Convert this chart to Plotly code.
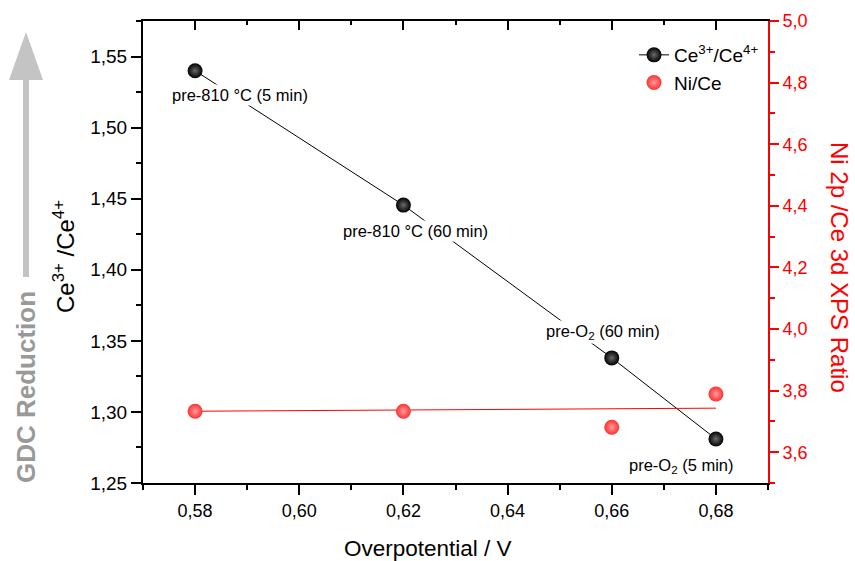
import plotly.graph_objects as go

# Overpotential (V) for each pretreatment
overpotential = [0.58, 0.62, 0.66, 0.68]
# Ce3+/Ce4+ ratio (left axis)
ce_ratio = [1.540, 1.4455, 1.338, 1.281]
# Ni 2p / Ce 3d XPS ratio (right axis)
ni_ce = [3.733, 3.733, 3.681, 3.789]
# Linear trend of Ni/Ce across the measured range
trend_x = [0.58, 0.68]
ni_ce_trend = [3.733, 3.743]
# Pretreatment labels attached to the Ce ratio points
point_labels = ["pre-810 °C (5 min)", "pre-810 °C (60 min)",
                "pre-O<sub>2</sub> (60 min)", "pre-O<sub>2</sub> (5 min)"]
# Label offsets (pixels) relative to each point
label_dx = [45, 12, -9, -34]
label_dy = [-24, -26, 26, -27]

W, H = 855, 561
L, R, T, B = 143, 87, 21, 78
PW, PH = W - L - R, H - T - B
FONT = "Liberation Sans, Arial, sans-serif"


def px(X):
    return (X - L) / PW


def py(Y):
    return (H - B - Y) / PH


fig = go.Figure()

fig.add_trace(go.Scatter(
    x=overpotential, y=ce_ratio, name="Ce<sup>3+</sup>/Ce<sup>4+</sup>",
    mode="lines+markers",
    line=dict(color="black", width=1),
    marker=dict(size=15, color="black",
                gradient=dict(type="radial", color="#6a6a6a")),
    xaxis="x", yaxis="y",
))

fig.add_trace(go.Scatter(
    x=trend_x, y=ni_ce_trend, mode="lines", showlegend=False,
    line=dict(color="#ff0000", width=1), xaxis="x", yaxis="y2",
    hoverinfo="skip",
))

fig.add_trace(go.Scatter(
    x=overpotential, y=ni_ce, name="Ni/Ce", mode="markers",
    marker=dict(size=15, color="#ff3030",
                gradient=dict(type="radial", color="#ff9c9c")),
    xaxis="x", yaxis="y2",
))

# empty trace so the top mirror axis is drawn
fig.add_trace(go.Scatter(x=[None], y=[None], xaxis="x2", yaxis="y",
                         showlegend=False, hoverinfo="skip"))

annotations = []
for xv, yv, txt, dx, dy in zip(overpotential, ce_ratio, point_labels, label_dx, label_dy):
    annotations.append(dict(
        x=xv, y=yv, xref="x", yref="y", text=txt, showarrow=False,
        xshift=dx, yshift=dy, xanchor="center", yanchor="middle",
        bgcolor="white", borderpad=1,
        font=dict(family=FONT, size=16.5, color="black"),
    ))

annotations += [
    dict(x=px(428), y=py(548), xref="paper", yref="paper",
         text="Overpotential / V", showarrow=False,
         font=dict(family=FONT, size=22.5, color="black"),
         xanchor="center", yanchor="middle"),
    dict(x=px(64), y=py(256), xref="paper", yref="paper",
         text="Ce<sup>3+</sup> /Ce<sup>4+</sup>", showarrow=False, textangle=-90,
         font=dict(family=FONT, size=24, color="black"),
         xanchor="center", yanchor="middle"),
    dict(x=px(840), y=py(267), xref="paper", yref="paper",
         text="Ni 2p /Ce 3d XPS Ratio", showarrow=False, textangle=90,
         font=dict(family=FONT, size=24, color="#ff0000"),
         xanchor="center", yanchor="middle"),
    dict(x=px(26), y=py(387), xref="paper", yref="paper",
         text="<b>GDC Reduction</b>", showarrow=False, textangle=-90,
         font=dict(family=FONT, size=26, color="#999999"),
         xanchor="center", yanchor="middle"),
]

# grey "reduction" arrow beside the left axis
arrow_pts = [(23, 277), (23, 80), (9, 80), (26, 32), (43, 80), (29, 80), (29, 277)]
arrow_path = "M " + " L ".join(f"{px(a):.5f},{py(b):.5f}" for a, b in arrow_pts) + " Z"
shapes = [dict(type="path", xref="paper", yref="paper", path=arrow_path,
               fillcolor="#c4c4c4", line=dict(width=0), layer="above")]

x_common = dict(range=[0.57, 0.69], tick0=0.58, dtick=0.02,
                showgrid=False, zeroline=False, showline=True,
                linecolor="black", linewidth=2, tickcolor="black",
                tickwidth=2, ticklen=10,
                minor=dict(dtick=0.01, tick0=0.57, ticklen=5, tickwidth=2,
                           tickcolor="black", ticks="outside"))

fig.update_layout(
    width=W, height=H,
    margin=dict(l=L, r=R, t=T, b=B),
    paper_bgcolor="white", plot_bgcolor="white",
    separators=",.",
    font=dict(family=FONT, color="black"),
    xaxis=dict(**x_common, ticks="outside", tickformat=".2f",
               tickfont=dict(family=FONT, size=18), anchor="y", side="bottom"),
    xaxis2=dict(range=[0.57, 0.69], tick0=0.58, dtick=0.02,
                showgrid=False, zeroline=False, showline=True,
                linecolor="black", linewidth=2, tickcolor="black",
                tickwidth=2, ticklen=9, ticks="inside",
                minor=dict(dtick=0.01, tick0=0.57, ticklen=4, tickwidth=2,
                           tickcolor="black", ticks="inside"),
                showticklabels=False, overlaying="x", side="top", anchor="y"),
    yaxis=dict(range=[1.25, 1.575], tick0=1.25, dtick=0.05, tickformat=".2f",
               showgrid=False, zeroline=False, showline=True,
               linecolor="black", linewidth=2, ticks="outside",
               ticklen=10, tickwidth=2, tickcolor="black",
               tickfont=dict(family=FONT, size=19),
               minor=dict(dtick=0.025, ticklen=5, tickwidth=2,
                          tickcolor="black", ticks="outside"),
               anchor="x"),
    yaxis2=dict(range=[3.5, 5.0], tick0=3.6, dtick=0.2, tickformat=".1f",
                showgrid=False, zeroline=False, showline=True,
                linecolor="#ff0000", linewidth=2, ticks="outside",
                ticklen=9, tickwidth=2, tickcolor="#ff0000",
                tickfont=dict(family=FONT, size=18, color="#ff0000"),
                minor=dict(dtick=0.1, tick0=3.5, ticklen=5, tickwidth=2,
                           tickcolor="#ff0000", ticks="outside"),
                overlaying="y", side="right", anchor="x"),
    legend=dict(x=px(634), y=py(36), xanchor="left", yanchor="top",
                bgcolor="rgba(0,0,0,0)", borderwidth=0,
                font=dict(family=FONT, size=19, color="black")),
    annotations=annotations,
    shapes=shapes,
    showlegend=True,
)

fig.write_html("out.html")
